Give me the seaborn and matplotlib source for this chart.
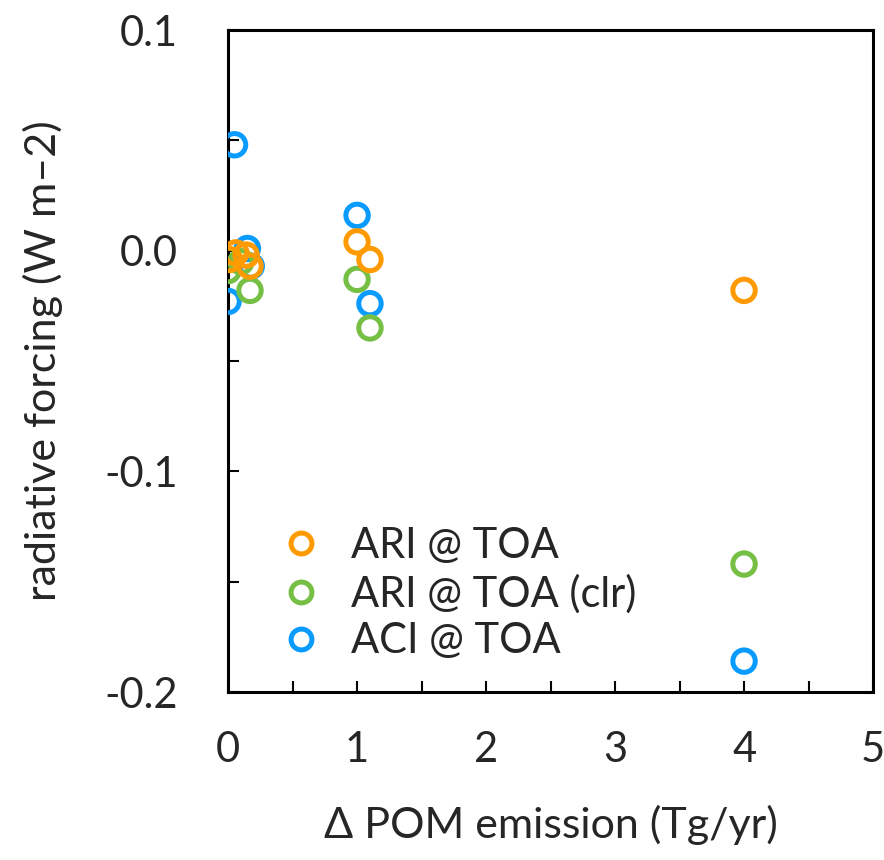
import matplotlib
matplotlib.use("Agg")
import matplotlib.pyplot as plt
from matplotlib.lines import Line2D
from matplotlib.ticker import MultipleLocator
import seaborn as sns
import pandas as pd

# Data
series_names = ["ACI @ TOA", "ARI @ TOA (clr)", "ARI @ TOA"]
aci_x = [0.05, 0.0, 0.15, 0.18, 1.0, 1.1, 4.0]
aci_y = [0.048, -0.023, 0.001, -0.007, 0.016, -0.024, -0.186]
clr_x = [0.0, 0.1, 0.17, 1.0, 1.1, 4.0]
clr_y = [-0.009, -0.005, -0.018, -0.013, -0.035, -0.142]
ari_x = [0.01, 0.06, 0.14, 0.17, 1.0, 1.1, 4.0]
ari_y = [-0.004, -0.001, -0.002, -0.007, 0.004, -0.004, -0.018]
colors = {"ARI @ TOA": "#FF9A00", "ARI @ TOA (clr)": "#76BF45", "ACI @ TOA": "#0A9BFF"}
legend_order = ["ARI @ TOA", "ARI @ TOA (clr)", "ACI @ TOA"]
x_ticks = [0, 1, 2, 3, 4, 5]
x_ticklabels = ["0", "1", "2", "3", "4", "5"]
y_ticks = [0.1, 0.0, -0.1, -0.2]
y_ticklabels = ["0.1", "0.0", "-0.1", "-0.2"]

rows = []
for name, xs, ys in zip(series_names, [aci_x, clr_x, ari_x], [aci_y, clr_y, ari_y]):
    for xv, yv in zip(xs, ys):
        rows.append({"emission": xv, "forcing": yv, "series": name})
df = pd.DataFrame(rows)

sns.set_style("white")
plt.rcParams["font.family"] = ["Lato", "DejaVu Sans"]

fig = plt.figure(figsize=(8.84, 8.60), dpi=100)
ax = fig.add_axes([0.258, 0.1953, 0.7296, 0.7698])

sns.scatterplot(data=df, x="emission", y="forcing", hue="series", palette=colors,
                s=260, linewidth=0, legend=False, ax=ax, zorder=3)
coll = ax.collections[0]
coll.set_edgecolors(coll.get_facecolors())
coll.set_facecolors("none")
coll.set_linewidths(3.6)

ax.set_xlim(0, 5)
ax.set_ylim(-0.2, 0.1)
ax.set_xticks(x_ticks)
ax.set_xticklabels(x_ticklabels)
ax.set_yticks(y_ticks)
ax.set_yticklabels(y_ticklabels)
ax.xaxis.set_minor_locator(MultipleLocator(0.5))
ax.yaxis.set_minor_locator(MultipleLocator(0.05))
ax.tick_params(axis="both", which="both", direction="in", bottom=True, left=True,
               top=False, right=False, width=1.5, color="black")
ax.tick_params(axis="both", which="major", length=8, labelsize=30)
ax.tick_params(axis="both", which="minor", length=8)
ax.tick_params(axis="x", which="major", pad=28)
ax.tick_params(axis="y", which="major", pad=36)
for sp in ax.spines.values():
    sp.set_visible(True)
    sp.set_color("black")
    sp.set_linewidth(2.2)

ax.set_xlabel("Δ POM emission (Tg/yr)", fontsize=31, labelpad=26)
ax.set_ylabel("radiative forcing (W m–2)", fontsize=31, labelpad=30)

handles = [Line2D([], [], linestyle="none", marker="o", markersize=15,
                  markerfacecolor="none", markeredgecolor=colors[n], markeredgewidth=3.6)
           for n in legend_order]
ax.legend(handles, legend_order, loc="upper left", bbox_to_anchor=(0.055, 0.275),
          frameon=False, fontsize=30, handletextpad=0.7, labelspacing=0.22,
          borderaxespad=0, handlelength=1.0)

fig.savefig("out.png", dpi=100, facecolor="white")
